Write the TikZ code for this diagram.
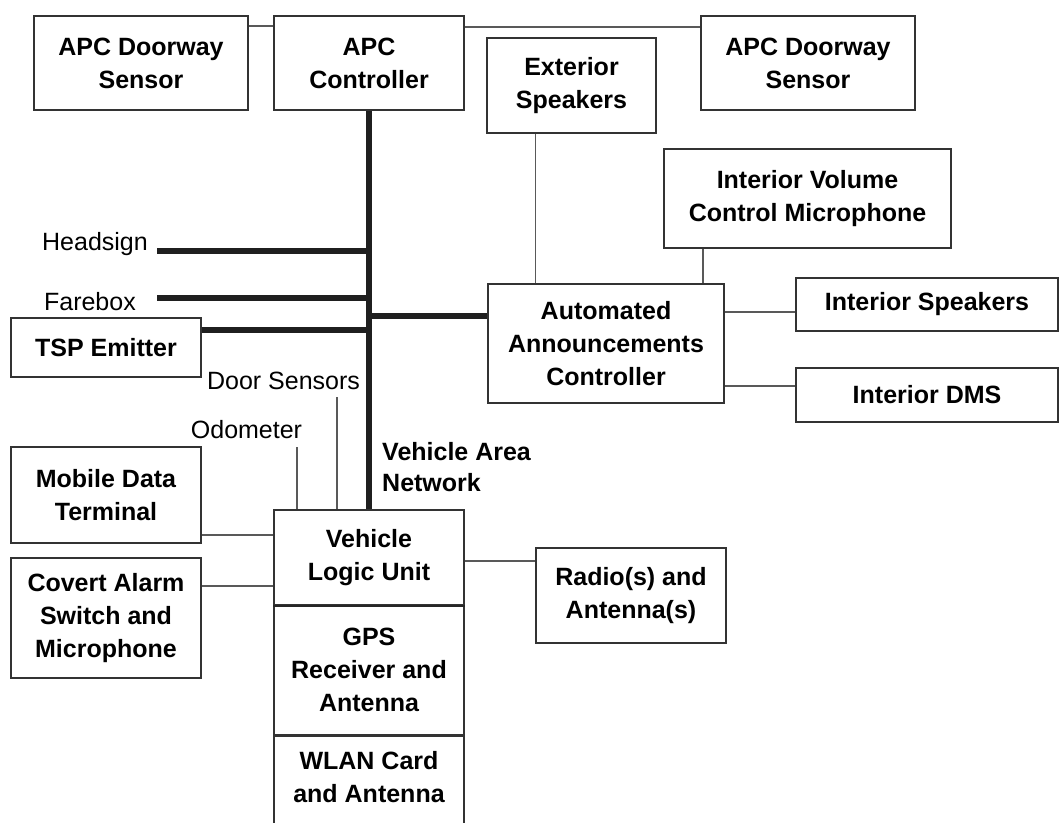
\documentclass[tikz,border=0pt]{standalone}
\usepackage{fontspec}
\setmainfont{Liberation Sans}
\begin{document}
\begin{tikzpicture}[x=1pt,y=-1pt,
  box/.style={draw=black!80, line width=1.6pt, fill=white, inner sep=0pt, align=center,
    font=\fontsize{25}{33}\selectfont\bfseries},
  plain/.style={inner sep=0pt, font=\fontsize{25}{33}\selectfont},
  boldlbl/.style={inner sep=0pt, align=left, font=\fontsize{25}{31}\selectfont\bfseries},
  conn/.style={draw=black!65, line width=1.5pt},
  bus/.style={draw=black!88, line width=6pt}]
\useasboundingbox (0,0) rectangle (1060,822);
\clip (0,0) rectangle (1060,822);
\fill[white] (0,0) rectangle (1060,822);

% boxes
\node[box, minimum width=214, minimum height=94] (apcL) at (141,63) {APC Doorway\\Sensor};
\node[box, minimum width=190, minimum height=94] (apcC) at (369,63) {APC\\Controller};
\node[box, minimum width=214, minimum height=94] (apcR) at (808,63) {APC Doorway\\Sensor};
\node[box, minimum width=169, minimum height=95] (ext) at (571.5,85.5) {Exterior\\Speakers};
\node[box, minimum width=287, minimum height=99] (ivc) at (807.5,198.5) {Interior Volume\\Control Microphone};
\node[box, minimum width=236, minimum height=119] (aac) at (606,343.5) {Automated\\Announcements\\Controller};
\node[box, minimum width=262, minimum height=53] (isp) at (927,304.5) {Interior Speakers};
\node[box, minimum width=262, minimum height=54] (dms) at (927,395) {Interior DMS};
\node[box, minimum width=190, minimum height=59] (tsp) at (106,347.5) {TSP Emitter};
\node[box, minimum width=190, minimum height=96] (mdt) at (106,495) {Mobile Data\\Terminal};
\node[box, minimum width=190, minimum height=120] (cov) at (106,618) {Covert Alarm\\Switch and\\Microphone};
\node[box, minimum width=190, minimum height=95] (vlu) at (369,557.5) {Vehicle\\Logic Unit};
\node[box, minimum width=190, minimum height=130] (gps) at (369,670) {GPS\\Receiver and\\Antenna};
\node[box, minimum width=190, minimum height=110, anchor=north] (wlan) at (369,735) {};
\node[plain, font=\fontsize{25}{33}\selectfont\bfseries, align=center] (wlantxt) at (369,777) {WLAN Card\\and Antenna};
\node[box, minimum width=190, minimum height=95] (radio) at (631,595.5) {Radio(s) and\\Antenna(s)};
\draw[black!85, line width=2.6pt] (vlu.south west) -- (vlu.south east);

% labels
\node[plain, anchor=east] (hs) at (148,244) {Headsign};
\node[plain, anchor=east] (fb) at (136,302) {Farebox};
\node[plain] (ds) at (283.5,381) {Door Sensors};
\node[plain] (odo) at (246.5,430) {Odometer};
\node[boldlbl, anchor=west] (van) at (382,467) {Vehicle Area\\Network};

\coordinate (hsend) at (157,251);
\coordinate (fbend) at (157,298);
\coordinate (dsend) at (337,397);
\coordinate (odoend) at (297,447);

% thin connectors
\draw[conn] ([yshift=-11pt]apcL.north east) -- ([yshift=-11pt]apcL.north east -| apcC.west);
\draw[conn] ([yshift=-12pt]apcC.north east) -- ([yshift=-12pt]apcC.north east -| apcR.west);
\draw[conn] ([xshift=-36pt]ext.south) -- ([xshift=-36pt]ext.south |- aac.north);
\draw[conn] ([xshift=-104.5pt]ivc.south) -- ([xshift=-104.5pt]ivc.south |- aac.north);
\draw[conn] ([yshift=-7.5pt]isp.west -| aac.east) -- ([yshift=-7.5pt]isp.west);
\draw[conn] ([yshift=9pt]dms.west -| aac.east) -- ([yshift=9pt]dms.west);
\draw[conn] ([yshift=-40pt]mdt.east) -- ([yshift=-40pt]mdt.east -| vlu.west);
\draw[conn] ([yshift=32pt]cov.east) -- ([yshift=32pt]cov.east -| vlu.west);
\draw[conn] ([yshift=34.5pt]radio.west -| vlu.east) -- ([yshift=34.5pt]radio.west);
\draw[conn] (dsend) -- (dsend |- vlu.north);
\draw[conn] (odoend) -- (odoend |- vlu.north);

% vehicle area network bus
\draw[bus] (apcC.south) -- (vlu.north);
\draw[bus] (hsend) -- (hsend -| apcC.south);
\draw[bus] (fbend) -- (fbend -| apcC.south);
\draw[bus] ([yshift=17.5pt]tsp.east) -- ([yshift=17.5pt]tsp.east -| apcC.south);
\draw[bus] ([yshift=27.5pt]aac.west -| apcC.south) -- ([yshift=27.5pt]aac.west);
\end{tikzpicture}
\end{document}
